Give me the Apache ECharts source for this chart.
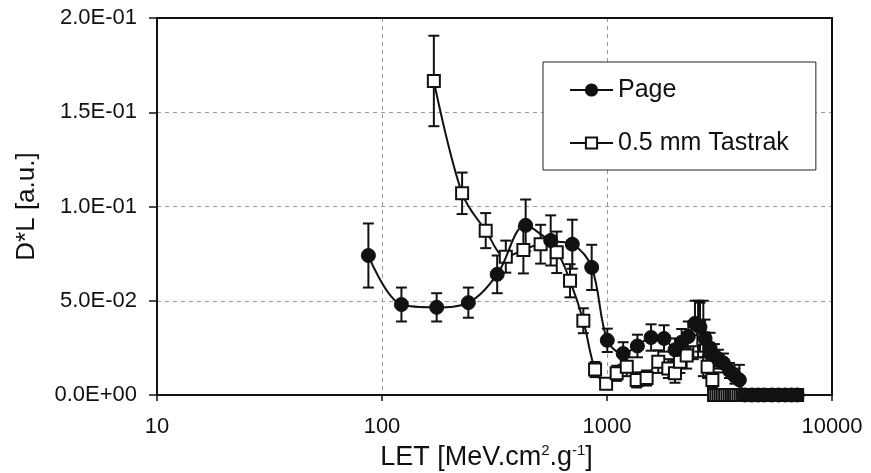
<!DOCTYPE html>
<html>
<head>
<meta charset="utf-8">
<script src="https://cdn.jsdelivr.net/npm/echarts@6/dist/echarts.min.js"></script>
<style>html,body{margin:0;padding:0;background:#fff}#c{width:871px;height:473px}</style>
</head>
<body>
<div id="c"></div>
<script>
// ---- data ----
const pageLET = [87,122,175,242,325,435,562,701,855,1003,1180,1365,1570,1792,2005,2147,2298,2460,2590,2728,2872,3000,3125,3290,3500,3700,3875,4100,4400,4700,5000,5400,5800,6200,6600,7000];
const pageVal = [0.074,0.048,0.0465,0.049,0.064,0.090,0.082,0.080,0.0677,0.029,0.022,0.026,0.0305,0.030,0.024,0.028,0.031,0.038,0.036,0.030,0.025,0.021,0.019,0.017,0.013,0.010,0.008,0,0,0,0,0,0,0,0,0];
const pageErr = [0.017,0.009,0.0075,0.008,0.010,0.0137,0.0133,0.013,0.012,0.0062,0.006,0.006,0.007,0.007,0.006,0.007,0.008,0.012,0.013,0.010,0.008,0.006,0.005,0.005,0.004,0.004,0.008,0,0,0,0,0,0,0,0,0];

const tasLET = [170,227,289,355,425,507,598,685,785,885,991,1104,1224,1355,1500,1690,1873,2005,2110,2260,2420,2540,2680,2800,2940,2990,3060,3130,3200,3270,3350,3430,3510,3590,3670,3750,3840,3930,4020,4110,4300,4600,4900,5200,5500,5900,6300,6700,7000];
const tasVal = [0.1666,0.107,0.0872,0.0734,0.0769,0.080,0.0757,0.0606,0.0394,0.0135,0.006,0.0115,0.015,0.008,0.009,0.0177,0.014,0.0115,0.0177,0.021,0.029,0.035,0.030,0.015,0.008,0,0,0,0,0,0,0,0,0,0,0,0,0,0,0,0,0,0,0,0,0,0,0,0];
const tasErr = [0.024,0.011,0.0093,0.0085,0.0124,0.0103,0.011,0.0088,0.0066,0.004,0.002,0.004,0.005,0.004,0.004,0.006,0.005,0.005,0.006,0.007,0.010,0.015,0.020,0.006,0.004,0,0,0,0,0,0,0,0,0,0,0,0,0,0,0,0,0,0,0,0,0,0,0,0];

const yTicks = [0, 0.05, 0.1, 0.15, 0.2];
const yTickLabels = ['0.0E+00','5.0E-02','1.0E-01','1.5E-01','2.0E-01'];
const xTicks = [10, 100, 1000, 10000];
const xTickLabels = ['10','100','1000','10000'];
const seriesNames = ['Page', '0.5 mm Tastrak'];

// ---- build ----
const pagePts = pageLET.map((x,i)=>[x,pageVal[i]]);
const tasPts = tasLET.map((x,i)=>[x,tasVal[i]]);
const pageBars = pageLET.map((x,i)=>[x,pageVal[i]-pageErr[i],pageVal[i]+pageErr[i]]).filter((d,i)=>pageErr[i]>0);
const tasBars = tasLET.map((x,i)=>[x,tasVal[i]-tasErr[i],tasVal[i]+tasErr[i]]).filter((d,i)=>tasErr[i]>0);

function errRender(params, api){
  const x = api.value(0), lo = api.value(1), hi = api.value(2);
  const p1 = api.coord([x, lo]), p2 = api.coord([x, hi]);
  const w = 5.5;
  const st = {stroke:'#111', lineWidth:2};
  return {type:'group', children:[
    {type:'line', shape:{x1:p1[0],y1:p1[1],x2:p2[0],y2:p2[1]}, style:st},
    {type:'line', shape:{x1:p1[0]-w,y1:p1[1],x2:p1[0]+w,y2:p1[1]}, style:st},
    {type:'line', shape:{x1:p2[0]-w,y1:p2[1],x2:p2[0]+w,y2:p2[1]}, style:st}
  ]};
}

const axisFont = 'Liberation Sans, Arial, sans-serif';
const gridLine = {show:true, showMinLine:false, showMaxLine:false, lineStyle:{color:'#999', type:[4,4], width:1}};
const frameAxisX = {type:'log', logBase:10, min:10, max:10000, position:'top', z:3, axisLine:{show:true, onZero:false, lineStyle:{color:'#111', width:2}}, axisTick:{show:false}, axisLabel:{show:false}, splitLine:{show:false}, minorTick:{show:false}};
const frameAxisY = {type:'value', min:0, max:0.2, interval:0.05, position:'right', z:3, axisLine:{show:true, onZero:false, lineStyle:{color:'#111', width:2}}, axisTick:{show:false}, axisLabel:{show:false}, splitLine:{show:false}};

const chart = echarts.init(document.getElementById('c'), null, {renderer:'canvas'});
chart.setOption({
  backgroundColor:'#fff',
  animation:false,
  grid:{left:157, right:39, top:18, bottom:78, show:false, containLabel:false, outerBoundsMode:'none'},
  legend:{
    data:seriesNames, orient:'vertical', left:543, top:62,
    padding:[14,27,13,26], itemGap:25, itemWidth:43, itemHeight:14,
    borderColor:'#222', borderWidth:1, backgroundColor:'#fff',
    textStyle:{fontFamily:axisFont, fontSize:25, color:'#111', lineHeight:28}
  },
  xAxis:[{
    type:'log', logBase:10, min:10, max:10000,
    name:'{a|LET [MeV.cm}{s|2}{a|.g}{s|-1}{a|]}', nameLocation:'middle', nameGap:48,
    nameTextStyle:{fontFamily:axisFont, fontSize:27, color:'#111', padding:[0,16,0,0],
      rich:{a:{fontFamily:axisFont, fontSize:27, color:'#111'}, s:{fontFamily:axisFont, fontSize:15, color:'#111', padding:[0,0,14,0]}}},
    axisLine:{show:true, onZero:false, lineStyle:{color:'#111', width:2}},
    axisTick:{show:true, inside:false, length:6, lineStyle:{color:'#111', width:1.5}},
    minorTick:{show:false},
    axisLabel:{fontFamily:axisFont, fontSize:22, color:'#111', margin:21,
      formatter:v=>{const i=xTicks.findIndex(t=>Math.abs(t-v)/t<1e-6); return i>=0?xTickLabels[i]:'';}},
    splitLine:gridLine
  }, frameAxisX],
  yAxis:[{
    type:'value', min:0, max:0.2, interval:0.05,
    name:'D*L [a.u.]', nameLocation:'middle', nameGap:117, nameRotate:90,
    nameTextStyle:{fontFamily:axisFont, fontSize:26, color:'#111'},
    axisLine:{show:true, onZero:false, lineStyle:{color:'#111', width:2}},
    axisTick:{show:true, inside:false, length:8, lineStyle:{color:'#111', width:1.5}},
    axisLabel:{fontFamily:axisFont, fontSize:22, color:'#111', margin:20,
      formatter:v=>{const i=yTicks.findIndex(t=>Math.abs(t-v)<1e-9); return i>=0?yTickLabels[i]:'';}},
    splitLine:gridLine
  }, frameAxisY],
  series:[
    {type:'custom', name:'pageErr', renderItem:errRender, data:pageBars, z:3, silent:true},
    {type:'custom', name:'tasErr', renderItem:errRender, data:tasBars, z:3, silent:true},
    {type:'line', name:seriesNames[1], data:tasPts, smooth:0.35, symbol:'rect', symbolSize:12,
      lineStyle:{color:'#111', width:2}, itemStyle:{color:'#fff', borderColor:'#111', borderWidth:2}, z:4},
    {type:'line', name:seriesNames[0], data:pagePts, smooth:0.35, symbol:'circle', symbolSize:14,
      lineStyle:{color:'#111', width:2}, itemStyle:{color:'#111', borderColor:'#111', borderWidth:1}, z:5}
  ]
});
</script>
</body>
</html>
